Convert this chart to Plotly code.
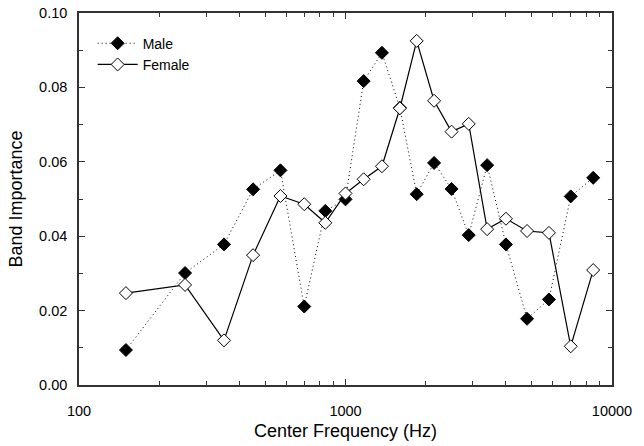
import plotly.graph_objects as go

freqs = [150, 250, 350, 450, 570, 700, 840, 1000, 1170, 1370, 1600, 1850,
         2150, 2500, 2900, 3400, 4000, 4800, 5800, 7000, 8500]
male = [0.0094, 0.0301, 0.0378, 0.0526, 0.0577, 0.0211, 0.0468, 0.0499,
        0.0817, 0.0893, 0.0745, 0.0513, 0.0597, 0.0527, 0.0403, 0.0591,
        0.0378, 0.0178, 0.0230, 0.0507, 0.0557]
female = [0.0247, 0.0269, 0.0120, 0.0349, 0.0508, 0.0486, 0.0436, 0.0515,
          0.0553, 0.0588, 0.0744, 0.0925, 0.0764, 0.0681, 0.0702, 0.0419,
          0.0447, 0.0414, 0.0409, 0.0104, 0.0309]
x_ticks = [100, 1000, 10000]
x_minor = [200, 300, 400, 500, 600, 700, 800, 900,
           2000, 3000, 4000, 5000, 6000, 7000, 8000, 9000]
y_ticks = [0.00, 0.02, 0.04, 0.06, 0.08, 0.10]

fig = go.Figure()
fig.add_trace(go.Scatter(
    x=freqs, y=male, name="Male", mode="lines+markers",
    line=dict(color="black", width=1, dash="1px,3px"),
    marker=dict(symbol="diamond", size=10, color="black",
                line=dict(color="black", width=1))))
fig.add_trace(go.Scatter(
    x=freqs, y=female, name="Female", mode="lines+markers",
    line=dict(color="black", width=1.2),
    marker=dict(symbol="diamond", size=10, color="white",
                line=dict(color="black", width=1))))

font = "Liberation Sans, Arial, sans-serif"
fig.update_layout(
    width=644, height=446,
    margin=dict(l=79, r=32, t=13, b=61, autoexpand=False),
    paper_bgcolor="white", plot_bgcolor="white",
    font=dict(family=font, size=14.5, color="black"),
    showlegend=True,
    legend=dict(x=0.0256, y=0.9606, xanchor="left", yanchor="top",
                bgcolor="rgba(0,0,0,0)", font=dict(size=14),
                tracegroupgap=0, itemwidth=40),
)
fig.update_xaxes(
    type="log", range=[2, 4],
    title=dict(text="Center Frequency (Hz)", font=dict(size=18), standoff=6),
    tickvals=x_ticks, ticktext=[str(v) for v in x_ticks],
    ticks="inside", ticklen=6, tickcolor="#333", tickwidth=1,
    ticklabelstandoff=12,
    minor=dict(tickvals=x_minor, ticks="inside", ticklen=4, tickcolor="#333"),
    showline=True, linecolor="#333", linewidth=1.5, mirror="ticks",
    showgrid=False, zeroline=False,
)
fig.update_yaxes(
    range=[0, 0.10],
    title=dict(text="Band Importance", font=dict(size=18), standoff=12),
    tickvals=y_ticks, tickformat=".2f",
    ticks="inside", ticklen=6, tickcolor="#333", tickwidth=1,
    ticklabelstandoff=7,
    minor=dict(dtick=0.01, ticks="inside", ticklen=4, tickcolor="#333"),
    showline=True, linecolor="#333", linewidth=1.5, mirror="ticks",
    showgrid=False, zeroline=False,
)
fig.write_html("out.html", config={"displayModeBar": False},
               post_script="document.body.style.margin='0px';")
